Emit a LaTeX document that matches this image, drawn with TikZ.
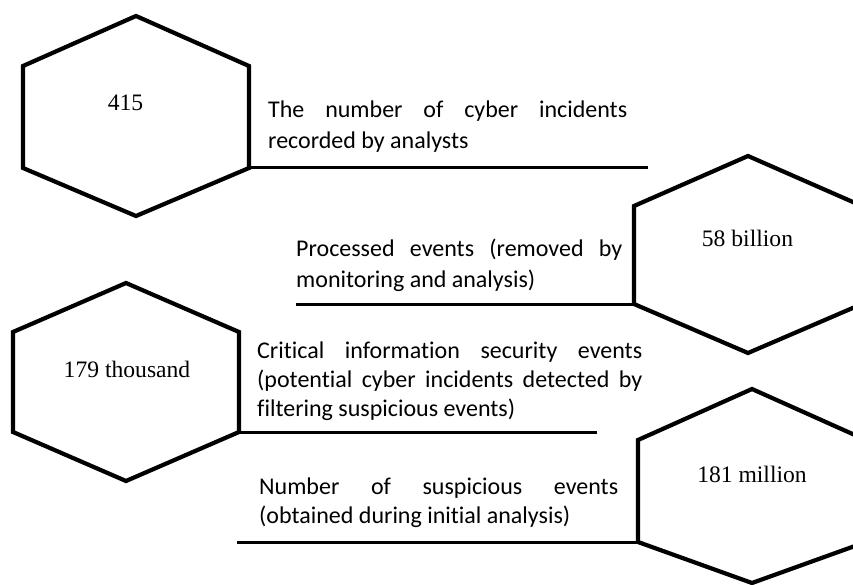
\documentclass[tikz,border=0pt]{standalone}
\usepackage{fontspec}
\setmainfont{Liberation Serif}
\newfontfamily\carlitofont[Ligatures={NoCommon}]{Carlito}
\tikzset{
  hexa/.style={line width=4.2pt, line join=miter},
  rulel/.style={line width=3pt},
  num/.style={font=\fontsize{23.6}{28}\selectfont, inner sep=0pt, anchor=base},
  txt/.style={font=\carlitofont\fontsize{24}{30}\selectfont, inner sep=0pt, anchor=base west},
}
\begin{document}
\begin{tikzpicture}[x=1pt,y=-1pt]
\useasboundingbox (0,0) rectangle (853,585);
\clip (0,0) rectangle (853,585);
% hexagon 1
\coordinate (h1t) at (136,16);
\coordinate (h1ur) at (249,66);
\coordinate (h1lr) at (249,168);
\coordinate (h1b) at (136,216);
\coordinate (h1ll) at (23,168);
\coordinate (h1ul) at (23,66);
\draw[hexa] (h1t) -- (h1ur) -- (h1lr) -- (h1b) -- (h1ll) -- (h1ul) -- cycle;
\node[num] (n1) at (125.5,111) {415};
% hexagon 2
\coordinate (h2t) at (748,156);
\coordinate (h2ur) at (862,206);
\coordinate (h2lr) at (862,304);
\coordinate (h2b) at (748,353);
\coordinate (h2ll) at (634,304);
\coordinate (h2ul) at (634,206);
\draw[hexa] (h2t) -- (h2ur) -- (h2lr) -- (h2b) -- (h2ll) -- (h2ul) -- cycle;
\node[num] (n2) at (747.5,247) {58 billion};
% hexagon 3
\coordinate (h3t) at (126,283);
\coordinate (h3ur) at (239,332);
\coordinate (h3lr) at (239,432);
\coordinate (h3b) at (126,481);
\coordinate (h3ll) at (13,432);
\coordinate (h3ul) at (13,332);
\draw[hexa] (h3t) -- (h3ur) -- (h3lr) -- (h3b) -- (h3ll) -- (h3ul) -- cycle;
\node[num] (n3) at (127,377) {179 thousand};
% hexagon 4
\coordinate (h4t) at (752,389);
\coordinate (h4ur) at (866,440);
\coordinate (h4lr) at (866,542);
\coordinate (h4b) at (752,583);
\coordinate (h4ll) at (638,542);
\coordinate (h4ul) at (638,440);
\draw[hexa] (h4t) -- (h4ur) -- (h4lr) -- (h4b) -- (h4ll) -- (h4ul) -- cycle;
\node[num] (n4) at (752,482) {181 million};
% rules
\coordinate (r1e) at (648,168);
\coordinate (r2s) at (296,304);
\coordinate (r3e) at (597,432);
\coordinate (r4s) at (237,542);
\draw[rulel] (h1lr) -- (r1e);
\draw[rulel] (r2s) -- (h2ll);
\draw[rulel] (h3lr) -- (r3e);
\draw[rulel] (r4s) -- (h4ll);
% texts
\node[txt] (t1a) at (268,118) {\makebox[359pt][s]{The number of cyber incidents}};
\node[txt] (t1b) at (268,149) {recorded by analysts};
\node[txt] (t2a) at (296,256) {\makebox[326pt][s]{Processed events (removed by}};
\node[txt] (t2b) at (296,287) {monitoring and analysis)};
\node[txt] (t3a) at (257,358) {\makebox[385pt][s]{Critical information security events}};
\node[txt] (t3b) at (257,387) {\makebox[385pt][s]{(potential cyber incidents detected by}};
\node[txt] (t3c) at (257,416) {filtering suspicious events)};
\node[txt] (t4a) at (259,494) {\makebox[359pt][s]{Number of suspicious events}};
\node[txt] (t4b) at (259,523) {(obtained during initial analysis)};
\end{tikzpicture}
\end{document}
